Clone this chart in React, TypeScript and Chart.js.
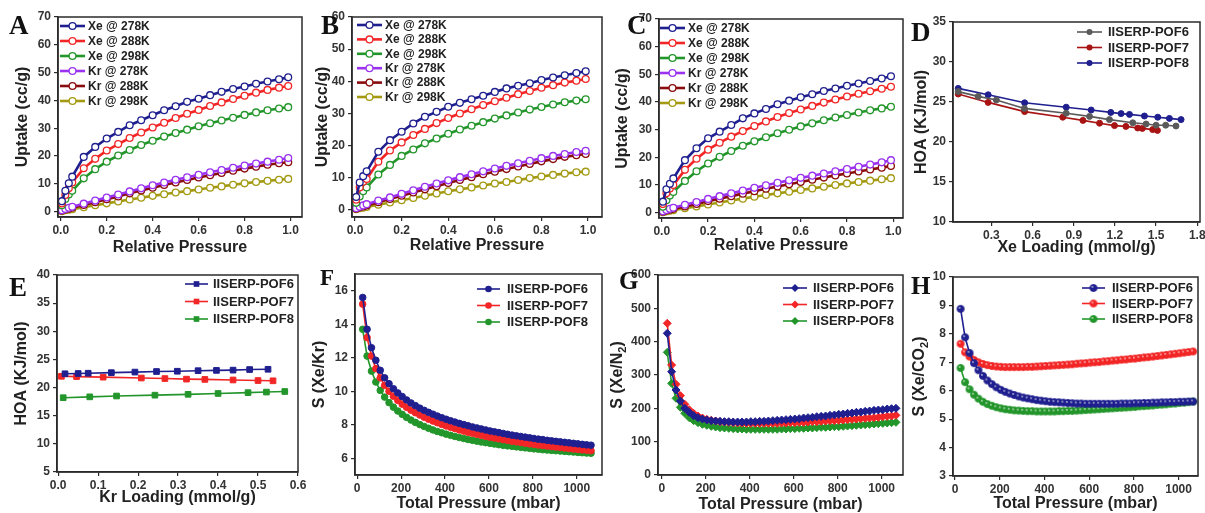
import React, { useEffect, useRef } from 'react';
import { Chart, registerables } from 'chart.js';

Chart.register(...registerables);

const W = 1205;
const H = 513;
const SANS = '"Liberation Sans", Arial, Helvetica, sans-serif';
const SERIF = '"Liberation Serif", "Times New Roman", serif';
const AXIS = '#2b2b2b';

const NAVY = '#1f1f8f';
const RED = '#f22626';
const GREEN = '#23962b';
const PURPLE = '#9a32f0';
const MAROON = '#8a0c0c';
const OLIVE = '#a39a12';
const GRAY = '#5a5a5a';
const DARKRED = '#a81414';

// ---------- isotherms (A, B, C) ----------
const ISO_P = [0.005, 0.02, 0.035, 0.05, 0.1, 0.15, 0.2, 0.25, 0.3, 0.35, 0.4, 0.45, 0.5, 0.55, 0.6, 0.65, 0.7, 0.75, 0.8, 0.85, 0.9, 0.95, 0.99];
const ISO_LABELS = ['Xe @ 278K', 'Xe @ 288K', 'Xe @ 298K', 'Kr @ 278K', 'Kr @ 288K', 'Kr @ 298K'];

const A_XE278 = [3.8, 7.5, 10.2, 12.6, 19.7, 23.3, 26.3, 28.7, 31.1, 32.9, 34.7, 36.5, 37.9, 39.5, 40.6, 41.9, 43.1, 44.1, 45.0, 46.0, 46.8, 47.6, 48.3];
const A_XE288 = [3.0, 6.0, 8.4, 10.5, 15.6, 19.0, 22.0, 24.3, 26.5, 28.5, 30.3, 32.0, 33.7, 35.2, 36.6, 38.0, 39.3, 40.5, 41.7, 42.8, 43.8, 44.6, 45.2];
const A_XE298 = [2.3, 4.6, 6.2, 7.5, 12.0, 15.3, 18.0, 20.2, 22.2, 24.0, 25.5, 27.0, 28.3, 29.5, 30.7, 31.8, 32.8, 33.8, 34.8, 35.7, 36.5, 37.1, 37.6];
const A_KR278 = [0.5, 1.0, 1.4, 1.8, 2.9, 4.0, 5.1, 6.2, 7.3, 8.4, 9.5, 10.5, 11.5, 12.4, 13.3, 14.2, 15.0, 15.8, 16.6, 17.3, 18.0, 18.7, 19.3];
const A_KR288 = [0.4, 0.8, 1.1, 1.4, 2.4, 3.4, 4.5, 5.5, 6.6, 7.6, 8.6, 9.6, 10.5, 11.4, 12.3, 13.1, 13.9, 14.7, 15.5, 16.2, 16.9, 17.4, 17.8];
const A_KR298 = [0.2, 0.5, 0.7, 0.9, 1.6, 2.3, 3.0, 3.7, 4.4, 5.0, 5.7, 6.3, 6.9, 7.4, 8.0, 8.6, 9.1, 9.7, 10.2, 10.7, 11.1, 11.5, 11.8];

const B_XE278 = [4.0, 8.5, 10.5, 12.0, 18.1, 21.7, 24.3, 26.9, 29.0, 30.5, 32.1, 33.3, 34.4, 35.5, 36.7, 37.8, 38.6, 39.4, 40.4, 41.2, 41.9, 42.6, 43.1];
const B_XE288 = [3.2, 7.0, 8.8, 9.6, 15.0, 18.5, 21.0, 23.3, 25.2, 27.0, 28.6, 30.0, 31.3, 32.6, 33.8, 34.9, 36.0, 37.0, 38.0, 38.8, 39.6, 40.2, 40.7];
const B_XE298 = [2.2, 4.2, 5.8, 7.0, 11.0, 14.0, 16.8, 18.8, 20.7, 22.2, 23.7, 25.0, 26.2, 27.3, 28.4, 29.4, 30.3, 31.2, 32.0, 32.8, 33.5, 34.0, 34.4];
const B_KR278 = [0.5, 1.0, 1.4, 1.8, 2.9, 3.9, 5.0, 6.1, 7.2, 8.2, 9.2, 10.2, 11.1, 12.0, 12.9, 13.7, 14.5, 15.3, 16.1, 16.8, 17.4, 18.0, 18.4];
const B_KR288 = [0.4, 0.8, 1.1, 1.4, 2.4, 3.4, 4.4, 5.4, 6.4, 7.4, 8.4, 9.3, 10.2, 11.1, 11.9, 12.7, 13.5, 14.3, 15.1, 15.8, 16.5, 17.0, 17.4];
const B_KR298 = [0.2, 0.5, 0.7, 0.9, 1.6, 2.3, 3.0, 3.7, 4.4, 5.1, 5.8, 6.4, 7.0, 7.6, 8.2, 8.7, 9.3, 9.9, 10.4, 10.9, 11.3, 11.7, 11.9];

const C_XE278 = [4.0, 8.5, 10.5, 12.4, 19.0, 23.3, 26.9, 29.3, 31.7, 34.1, 35.9, 37.5, 39.2, 40.5, 41.7, 42.8, 44.0, 44.9, 45.9, 46.7, 47.6, 48.5, 49.3];
const C_XE288 = [3.2, 7.0, 8.8, 10.0, 15.5, 19.5, 22.8, 25.3, 27.5, 29.5, 31.3, 33.0, 34.6, 36.0, 37.3, 38.6, 39.8, 40.9, 42.0, 43.0, 43.9, 44.8, 45.5];
const C_XE298 = [2.2, 4.5, 6.2, 7.5, 11.5, 15.0, 17.8, 20.2, 22.3, 24.2, 25.8, 27.3, 28.7, 30.0, 31.2, 32.3, 33.4, 34.4, 35.3, 36.2, 37.0, 37.7, 38.3];
const C_KR278 = [0.5, 1.0, 1.4, 1.8, 2.9, 3.9, 5.0, 6.0, 7.0, 8.0, 9.0, 9.9, 10.8, 11.7, 12.6, 13.4, 14.2, 15.0, 15.8, 16.6, 17.4, 18.2, 19.0];
const C_KR288 = [0.4, 0.8, 1.1, 1.4, 2.3, 3.2, 4.2, 5.1, 6.0, 6.9, 7.8, 8.7, 9.5, 10.3, 11.1, 11.9, 12.7, 13.5, 14.2, 14.9, 15.6, 16.3, 16.9];
const C_KR298 = [0.2, 0.5, 0.7, 0.9, 1.6, 2.3, 3.0, 3.7, 4.4, 5.1, 5.8, 6.4, 7.0, 7.6, 8.2, 8.8, 9.4, 10.0, 10.6, 11.1, 11.6, 12.1, 12.5];

// ---------- HOA (D, E) ----------
const POF_LABELS = ['IISERP-POF6', 'IISERP-POF7', 'IISERP-POF8'];

const D_POF6_X = [0.058, 0.203, 0.336, 0.54, 0.845, 1.015, 1.16, 1.33, 1.427, 1.5, 1.57, 1.645];
const D_POF6_Y = [26.3, 25.7, 25.25, 24.2, 23.6, 23.2, 22.8, 22.4, 22.25, 22.1, 22.1, 22.0];
const D_POF7_X = [0.058, 0.276, 0.542, 0.82, 0.967, 1.088, 1.197, 1.28, 1.366, 1.4, 1.475, 1.51];
const D_POF7_Y = [26.0, 24.95, 23.8, 23.1, 22.7, 22.35, 22.05, 21.95, 21.75, 21.7, 21.55, 21.45];
const D_POF8_X = [0.058, 0.276, 0.542, 0.845, 1.027, 1.17, 1.245, 1.306, 1.415, 1.512, 1.597, 1.682];
const D_POF8_Y = [26.7, 25.9, 24.9, 24.35, 24.0, 23.7, 23.55, 23.45, 23.25, 23.1, 22.95, 22.8];

const E_POF6_X = [0.017, 0.05, 0.075, 0.133, 0.192, 0.246, 0.298, 0.35, 0.396, 0.4375, 0.479, 0.525];
const E_POF6_Y = [22.45, 22.5, 22.55, 22.65, 22.75, 22.85, 22.9, 23.0, 23.05, 23.1, 23.2, 23.25];
const E_POF7_X = [0.008, 0.046, 0.1125, 0.208, 0.267, 0.321, 0.367, 0.4375, 0.5, 0.5375];
const E_POF7_Y = [22.0, 21.95, 21.85, 21.7, 21.6, 21.5, 21.45, 21.35, 21.25, 21.2];
const E_POF8_X = [0.0125, 0.079, 0.146, 0.242, 0.325, 0.4, 0.475, 0.521, 0.567];
const E_POF8_Y = [18.2, 18.35, 18.5, 18.65, 18.8, 18.95, 19.1, 19.2, 19.3];

// ---------- selectivity (F, G, H) ----------
const PRESSURE = [25, 45, 65, 85, 105, 125, 145, 165, 185, 205, 225, 245, 265, 285, 305, 325, 345, 365, 385, 405, 425, 445, 465, 485, 505, 525, 545, 565, 585, 605, 625, 645, 665, 685, 705, 725, 745, 765, 785, 805, 825, 845, 865, 885, 905, 925, 945, 965, 985, 1005, 1025, 1045, 1065];

const F_POF6 = [15.6, 13.7, 12.6, 11.85, 11.25, 10.8, 10.45, 10.15, 9.9, 9.68, 9.48, 9.3, 9.14, 8.99, 8.86, 8.74, 8.63, 8.52, 8.42, 8.33, 8.24, 8.16, 8.08, 8.01, 7.94, 7.87, 7.81, 7.75, 7.69, 7.63, 7.58, 7.53, 7.48, 7.43, 7.38, 7.34, 7.3, 7.26, 7.22, 7.18, 7.14, 7.11, 7.07, 7.04, 7.01, 6.98, 6.95, 6.92, 6.89, 6.86, 6.83, 6.8, 6.78];
const F_POF7 = [15.2, 13.2, 12.1, 11.35, 10.8, 10.35, 10.0, 9.7, 9.45, 9.23, 9.04, 8.87, 8.72, 8.58, 8.45, 8.33, 8.22, 8.12, 8.02, 7.93, 7.85, 7.77, 7.69, 7.62, 7.55, 7.49, 7.43, 7.37, 7.31, 7.26, 7.21, 7.16, 7.11, 7.07, 7.02, 6.98, 6.94, 6.9, 6.86, 6.83, 6.79, 6.76, 6.73, 6.7, 6.67, 6.64, 6.61, 6.58, 6.55, 6.53, 6.5, 6.48, 6.45];
const F_POF8 = [13.7, 12.1, 11.2, 10.55, 10.05, 9.65, 9.32, 9.05, 8.82, 8.62, 8.44, 8.28, 8.14, 8.01, 7.9, 7.79, 7.69, 7.6, 7.52, 7.44, 7.37, 7.3, 7.24, 7.18, 7.12, 7.07, 7.02, 6.97, 6.93, 6.89, 6.85, 6.81, 6.77, 6.74, 6.71, 6.68, 6.65, 6.62, 6.59, 6.56, 6.54, 6.51, 6.49, 6.47, 6.45, 6.43, 6.41, 6.39, 6.37, 6.35, 6.33, 6.31, 6.3];

const G_POF6 = [425, 310, 255, 222, 200, 188, 178, 172, 168, 165, 163, 162, 161, 160, 160, 159, 159, 159, 159, 160, 160, 161, 161, 162, 163, 164, 165, 166, 167, 168, 169, 171, 172, 173, 175, 176, 177, 179, 180, 182, 183, 185, 186, 188, 189, 191, 192, 194, 195, 196, 198, 199, 200];
const G_POF7 = [455, 330, 272, 238, 212, 196, 185, 177, 171, 167, 164, 162, 160, 159, 158, 157, 156, 156, 155, 155, 155, 155, 155, 155, 155, 155, 156, 156, 157, 157, 158, 158, 159, 160, 160, 161, 162, 163, 163, 164, 165, 166, 167, 168, 169, 170, 171, 172, 173, 175, 176, 177, 179];
const G_POF8 = [368, 275, 230, 203, 185, 172, 163, 157, 152, 149, 146, 144, 142, 141, 140, 139, 138, 138, 137, 137, 137, 137, 137, 137, 137, 137, 138, 138, 139, 139, 140, 140, 141, 141, 142, 143, 143, 144, 145, 145, 146, 147, 148, 149, 150, 151, 152, 153, 154, 155, 156, 157, 158];

const H_POF6 = [8.88, 7.88, 7.33, 6.97, 6.72, 6.52, 6.36, 6.23, 6.12, 6.03, 5.96, 5.9, 5.85, 5.8, 5.76, 5.73, 5.7, 5.67, 5.65, 5.63, 5.61, 5.6, 5.59, 5.58, 5.57, 5.56, 5.55, 5.55, 5.54, 5.54, 5.54, 5.54, 5.54, 5.54, 5.54, 5.54, 5.55, 5.55, 5.55, 5.56, 5.56, 5.57, 5.57, 5.58, 5.58, 5.59, 5.59, 5.6, 5.6, 5.61, 5.61, 5.62, 5.62];
const H_POF7 = [7.65, 7.35, 7.2, 7.08, 7.0, 6.94, 6.9, 6.87, 6.85, 6.84, 6.83, 6.83, 6.83, 6.83, 6.83, 6.84, 6.84, 6.85, 6.86, 6.87, 6.88, 6.89, 6.9, 6.91, 6.92, 6.93, 6.95, 6.96, 6.97, 6.99, 7.0, 7.01, 7.03, 7.04, 7.06, 7.07, 7.09, 7.1, 7.12, 7.13, 7.15, 7.17, 7.18, 7.2, 7.22, 7.24, 7.26, 7.28, 7.3, 7.32, 7.34, 7.36, 7.38];
const H_POF8 = [6.8, 6.3, 6.05, 5.86, 5.72, 5.61, 5.53, 5.47, 5.42, 5.38, 5.35, 5.33, 5.31, 5.3, 5.29, 5.28, 5.28, 5.27, 5.27, 5.27, 5.27, 5.27, 5.28, 5.28, 5.29, 5.29, 5.3, 5.31, 5.32, 5.33, 5.34, 5.35, 5.36, 5.37, 5.38, 5.39, 5.4, 5.41, 5.42, 5.43, 5.45, 5.46, 5.47, 5.48, 5.5, 5.51, 5.52, 5.54, 5.55, 5.57, 5.58, 5.6, 5.62];

// ---------- ticks ----------
const ISO_X_TICKS = [0, 0.2, 0.4, 0.6, 0.8, 1.0];
const A_Y_TICKS = [0, 10, 20, 30, 40, 50, 60, 70];
const B_Y_TICKS = [0, 10, 20, 30, 40, 50, 60];
const C_Y_TICKS = [0, 10, 20, 30, 40, 50, 60, 70];
const D_X_TICKS = [0.3, 0.6, 0.9, 1.2, 1.5, 1.8];
const D_Y_TICKS = [10, 15, 20, 25, 30, 35];
const E_X_TICKS = [0, 0.1, 0.2, 0.3, 0.4, 0.5, 0.6];
const E_Y_TICKS = [5, 10, 15, 20, 25, 30, 35, 40];
const P_X_TICKS = [0, 200, 400, 600, 800, 1000];
const F_Y_TICKS = [6, 8, 10, 12, 14, 16];
const G_Y_TICKS = [0, 100, 200, 300, 400, 500, 600];
const H_Y_TICKS = [3, 4, 5, 6, 7, 8, 9, 10];

type Kind = 'open' | 'dot' | 'square' | 'diamond' | 'sphere';
type Seg = { t: string; sub?: boolean };
type Series = { label: string; x: number[]; y: number[]; color: string };
type Panel = {
  letter: string; letterX: number; letterY: number; letterSize: number;
  box: [number, number, number, number];
  xMin: number; xMax: number; yMin: number; yMax: number;
  xTicks: number[]; yTicks: number[]; xDec: number; yDec: number;
  xTitle: string; xTitleY: number; yTitle: Seg[]; yTitleX: number;
  kind: Kind; radius: number; lineWidth: number;
  legend: { x: number; y: number; dy: number; len: number; gap: number; size: number };
  series: Series[];
};

const isoSeries = (a: number[][]): Series[] => {
  const colors = [NAVY, RED, GREEN, PURPLE, MAROON, OLIVE];
  return a.map((ys, i) => ({ label: ISO_LABELS[i], x: ISO_P, y: ys, color: colors[i] }));
};

const PANELS: Panel[] = [
  {
    letter: 'A', letterX: 9, letterY: 34, letterSize: 27,
    box: [58, 17, 302, 217], xMin: -0.012, xMax: 1.05, yMin: -1.9, yMax: 70,
    xTicks: ISO_X_TICKS, yTicks: A_Y_TICKS, xDec: 1, yDec: 0,
    xTitle: 'Relative Pressure', xTitleY: 248, yTitle: [{ t: 'Uptake (cc/g)' }], yTitleX: 23,
    kind: 'open', radius: 3.4, lineWidth: 2.6,
    legend: { x: 60, y: 26, dy: 15, len: 25, gap: 3, size: 12 },
    series: isoSeries([A_XE278, A_XE288, A_XE298, A_KR278, A_KR288, A_KR298]),
  },
  {
    letter: 'B', letterX: 321, letterY: 34, letterSize: 27,
    box: [352, 17, 602, 217], xMin: -0.013, xMax: 1.06, yMin: -2.2, yMax: 60,
    xTicks: ISO_X_TICKS, yTicks: B_Y_TICKS, xDec: 1, yDec: 0,
    xTitle: 'Relative Pressure', xTitleY: 246, yTitle: [{ t: 'Uptake (cc/g)' }], yTitleX: 323,
    kind: 'open', radius: 3.4, lineWidth: 2.6,
    legend: { x: 357, y: 25, dy: 14.4, len: 25, gap: 3, size: 12 },
    series: isoSeries([B_XE278, B_XE288, B_XE298, B_KR278, B_KR288, B_KR298]),
  },
  {
    letter: 'C', letterX: 627, letterY: 34, letterSize: 27,
    box: [659, 19, 903, 218], xMin: -0.012, xMax: 1.042, yMin: -1.9, yMax: 70,
    xTicks: ISO_X_TICKS, yTicks: C_Y_TICKS, xDec: 1, yDec: 0,
    xTitle: 'Relative Pressure', xTitleY: 246, yTitle: [{ t: 'Uptake (cc/g)' }], yTitleX: 623,
    kind: 'open', radius: 3.4, lineWidth: 2.6,
    legend: { x: 660, y: 28, dy: 15, len: 25, gap: 3, size: 12 },
    series: isoSeries([C_XE278, C_XE288, C_XE298, C_KR278, C_KR288, C_KR298]),
  },
  {
    letter: 'D', letterX: 911, letterY: 41, letterSize: 27,
    box: [953, 22, 1202, 222], xMin: 0.02, xMax: 1.82, yMin: 10, yMax: 35,
    xTicks: D_X_TICKS, yTicks: D_Y_TICKS, xDec: 1, yDec: 0,
    xTitle: 'Xe Loading (mmol/g)', xTitleY: 248, yTitle: [{ t: 'HOA (KJ/mol)' }], yTitleX: 922,
    kind: 'dot', radius: 3, lineWidth: 1.6,
    legend: { x: 1077, y: 32, dy: 15.5, len: 25, gap: 6, size: 13 },
    series: [
      { label: POF_LABELS[0], x: D_POF6_X, y: D_POF6_Y, color: GRAY },
      { label: POF_LABELS[1], x: D_POF7_X, y: D_POF7_Y, color: DARKRED },
      { label: POF_LABELS[2], x: D_POF8_X, y: D_POF8_Y, color: NAVY },
    ],
  },
  {
    letter: 'E', letterX: 9, letterY: 296, letterSize: 27,
    box: [57, 275, 298, 472], xMin: -0.003, xMax: 0.6, yMin: 5, yMax: 40,
    xTicks: E_X_TICKS, yTicks: E_Y_TICKS, xDec: 1, yDec: 0,
    xTitle: 'Kr Loading (mmol/g)', xTitleY: 498, yTitle: [{ t: 'HOA (KJ/mol)' }], yTitleX: 22,
    kind: 'square', radius: 4, lineWidth: 1.6,
    legend: { x: 185, y: 284, dy: 17.5, len: 23, gap: 5, size: 13 },
    series: [
      { label: POF_LABELS[0], x: E_POF6_X, y: E_POF6_Y, color: NAVY },
      { label: POF_LABELS[1], x: E_POF7_X, y: E_POF7_Y, color: RED },
      { label: POF_LABELS[2], x: E_POF8_X, y: E_POF8_Y, color: GREEN },
    ],
  },
  {
    letter: 'F', letterX: 320, letterY: 285, letterSize: 23,
    box: [355, 274, 602, 475], xMin: -10, xMax: 1115, yMin: 5, yMax: 17,
    xTicks: P_X_TICKS, yTicks: F_Y_TICKS, xDec: 0, yDec: 0,
    xTitle: 'Total Pressure (mbar)', xTitleY: 504, yTitle: [{ t: 'S (Xe/Kr)' }], yTitleX: 320,
    kind: 'dot', radius: 3.3, lineWidth: 1.6,
    legend: { x: 477, y: 289, dy: 16.5, len: 23, gap: 7, size: 13 },
    series: [
      { label: POF_LABELS[0], x: PRESSURE, y: F_POF6, color: NAVY },
      { label: POF_LABELS[1], x: PRESSURE, y: F_POF7, color: RED },
      { label: POF_LABELS[2], x: PRESSURE, y: F_POF8, color: GREEN },
    ],
  },
  {
    letter: 'G', letterX: 619, letterY: 289, letterSize: 25,
    box: [658, 275, 903, 475], xMin: -17, xMax: 1097, yMin: 0, yMax: 600,
    xTicks: P_X_TICKS, yTicks: G_Y_TICKS, xDec: 0, yDec: 0,
    xTitle: 'Total Pressure (mbar)', xTitleY: 505, yTitle: [{ t: 'S (Xe/N' }, { t: '2', sub: true }, { t: ')' }], yTitleX: 618,
    kind: 'diamond', radius: 4, lineWidth: 1.6,
    legend: { x: 783, y: 288, dy: 16.5, len: 24, gap: 6, size: 13 },
    series: [
      { label: POF_LABELS[0], x: PRESSURE, y: G_POF6, color: NAVY },
      { label: POF_LABELS[1], x: PRESSURE, y: G_POF7, color: RED },
      { label: POF_LABELS[2], x: PRESSURE, y: G_POF8, color: GREEN },
    ],
  },
  {
    letter: 'H', letterX: 911, letterY: 294, letterSize: 25,
    box: [953, 277, 1198, 476], xMin: -9, xMax: 1087, yMin: 3, yMax: 10,
    xTicks: P_X_TICKS, yTicks: H_Y_TICKS, xDec: 0, yDec: 0,
    xTitle: 'Total Pressure (mbar)', xTitleY: 504, yTitle: [{ t: 'S (Xe/CO' }, { t: '2', sub: true }, { t: ')' }], yTitleX: 920,
    kind: 'sphere', radius: 3.6, lineWidth: 1.6,
    legend: { x: 1082, y: 288, dy: 15.5, len: 23, gap: 7, size: 13 },
    series: [
      { label: POF_LABELS[0], x: PRESSURE, y: H_POF6, color: NAVY },
      { label: POF_LABELS[1], x: PRESSURE, y: H_POF7, color: RED },
      { label: POF_LABELS[2], x: PRESSURE, y: H_POF8, color: GREEN },
    ],
  },
];

function sphereImage(color: string, r: number): HTMLCanvasElement {
  const s = Math.ceil(r * 2 + 2);
  const c = document.createElement('canvas');
  c.width = s;
  c.height = s;
  const g = c.getContext('2d')!;
  const cx = s / 2;
  const cy = s / 2;
  const grad = g.createRadialGradient(cx - r * 0.35, cy - r * 0.35, 0.1, cx, cy, r);
  grad.addColorStop(0, '#ffffff');
  grad.addColorStop(0.3, color);
  grad.addColorStop(1, color);
  g.fillStyle = grad;
  g.beginPath();
  g.arc(cx, cy, r, 0, Math.PI * 2);
  g.fill();
  g.lineWidth = 0.8;
  g.strokeStyle = color;
  g.stroke();
  return c;
}

function pointOpts(kind: Kind, color: string, r: number): any {
  switch (kind) {
    case 'open':
      return { pointStyle: 'circle', pointRadius: r, pointBackgroundColor: '#ffffff', pointBorderColor: color, pointBorderWidth: 1.3 };
    case 'dot':
      return { pointStyle: 'circle', pointRadius: r, pointBackgroundColor: color, pointBorderColor: color, pointBorderWidth: 1 };
    case 'square':
      return { pointStyle: 'rect', pointRadius: r, pointBackgroundColor: color, pointBorderColor: color, pointBorderWidth: 1 };
    case 'diamond':
      return { pointStyle: 'rectRot', pointRadius: r, pointBackgroundColor: color, pointBorderColor: color, pointBorderWidth: 1 };
    case 'sphere':
    default:
      return { pointStyle: sphereImage(color, r), pointRadius: r, pointBackgroundColor: color, pointBorderColor: color };
  }
}

function drawMarker(ctx: CanvasRenderingContext2D, kind: Kind, x: number, y: number, r: number, color: string, img?: HTMLCanvasElement) {
  ctx.save();
  ctx.fillStyle = color;
  ctx.strokeStyle = color;
  ctx.lineWidth = 1;
  ctx.beginPath();
  if (kind === 'open') {
    ctx.arc(x, y, r, 0, Math.PI * 2);
    ctx.fillStyle = '#ffffff';
    ctx.fill();
    ctx.lineWidth = 1.3;
    ctx.stroke();
  } else if (kind === 'dot') {
    ctx.arc(x, y, r, 0, Math.PI * 2);
    ctx.fill();
  } else if (kind === 'square') {
    const s = r * Math.SQRT1_2;
    ctx.rect(x - s, y - s, 2 * s, 2 * s);
    ctx.fill();
  } else if (kind === 'diamond') {
    ctx.moveTo(x, y - r);
    ctx.lineTo(x + r, y);
    ctx.lineTo(x, y + r);
    ctx.lineTo(x - r, y);
    ctx.closePath();
    ctx.fill();
  } else if (img) {
    ctx.drawImage(img, x - img.width / 2, y - img.height / 2);
  }
  ctx.restore();
}

function drawRich(ctx: CanvasRenderingContext2D, segs: Seg[], cx: number, cy: number) {
  ctx.save();
  ctx.translate(cx, cy);
  ctx.rotate(-Math.PI / 2);
  const big = `bold 16px ${SANS}`;
  const small = `bold 11px ${SANS}`;
  let total = 0;
  for (const s of segs) {
    ctx.font = s.sub ? small : big;
    total += ctx.measureText(s.t).width;
  }
  let x = -total / 2;
  ctx.textAlign = 'left';
  ctx.textBaseline = 'middle';
  ctx.fillStyle = '#222';
  for (const s of segs) {
    ctx.font = s.sub ? small : big;
    ctx.fillText(s.t, x, s.sub ? 5 : 0);
    x += ctx.measureText(s.t).width;
  }
  ctx.restore();
}

function makeChart(canvas: HTMLCanvasElement, p: Panel): Chart {
  const [L, T, R, B] = p.box;
  const YW = 40;
  const XH = 30;
  const images: (HTMLCanvasElement | undefined)[] = [];
  const datasets = p.series.map((s) => {
    const po = pointOpts(p.kind, s.color, p.radius);
    images.push(p.kind === 'sphere' ? (po.pointStyle as HTMLCanvasElement) : undefined);
    return {
      label: s.label,
      data: s.x.map((x, i) => ({ x, y: s.y[i] })),
      borderColor: s.color,
      backgroundColor: s.color,
      borderWidth: p.lineWidth,
      tension: 0,
      ...po,
    };
  });

  const tickFont = { family: SANS, size: 12, weight: 'bold' as const };

  const deco = {
    id: 'deco' + p.letter,
    afterDraw(chart: any) {
      const ctx: CanvasRenderingContext2D = chart.ctx;
      const a = chart.chartArea;
      ctx.save();
      ctx.strokeStyle = AXIS;
      ctx.lineWidth = 1.5;
      ctx.strokeRect(a.left, a.top, a.right - a.left, a.bottom - a.top);

      ctx.fillStyle = '#111';
      ctx.font = `bold ${p.letterSize}px ${SERIF}`;
      ctx.textAlign = 'left';
      ctx.textBaseline = 'alphabetic';
      ctx.fillText(p.letter, p.letterX, p.letterY);

      ctx.fillStyle = '#222';
      ctx.font = `bold 16px ${SANS}`;
      ctx.textAlign = 'center';
      ctx.textBaseline = 'middle';
      ctx.fillText(p.xTitle, (a.left + a.right) / 2, p.xTitleY);

      drawRich(ctx, p.yTitle, p.yTitleX, (a.top + a.bottom) / 2);

      const lg = p.legend;
      p.series.forEach((s, i) => {
        const y = lg.y + i * lg.dy;
        ctx.strokeStyle = s.color;
        ctx.lineWidth = p.lineWidth;
        ctx.beginPath();
        ctx.moveTo(lg.x, y);
        ctx.lineTo(lg.x + lg.len, y);
        ctx.stroke();
        drawMarker(ctx, p.kind, lg.x + lg.len / 2, y, p.radius, s.color, images[i]);
        ctx.fillStyle = '#222';
        ctx.font = `bold ${lg.size}px ${SANS}`;
        ctx.textAlign = 'left';
        ctx.textBaseline = 'middle';
        ctx.fillText(s.label, lg.x + lg.len + lg.gap, y + 0.5);
      });
      ctx.restore();
    },
  };

  const zeroPad = (s: any) => {
    s.paddingLeft = 0;
    s.paddingRight = 0;
    s.paddingTop = 0;
    s.paddingBottom = 0;
  };

  return new Chart(canvas, {
    type: 'line',
    data: { datasets: datasets as any },
    options: {
      responsive: false,
      animation: false,
      devicePixelRatio: 1,
      events: [],
      layout: { padding: { left: L - YW, top: T, right: W - R, bottom: H - B - XH } },
      plugins: { legend: { display: false }, tooltip: { enabled: false } },
      scales: {
        x: {
          type: 'linear',
          min: p.xMin,
          max: p.xMax,
          afterBuildTicks: (s: any) => { s.ticks = p.xTicks.map((v) => ({ value: v })); },
          afterFit: (s: any) => { s.height = XH; zeroPad(s); },
          ticks: {
            font: tickFont, color: '#333', padding: 2, maxRotation: 0, autoSkip: false,
            callback: (v: any) => Number(v).toFixed(p.xDec),
          },
          grid: { display: true, drawOnChartArea: false, drawTicks: true, tickLength: 4, color: AXIS, lineWidth: 1.2 },
          border: { display: true, color: AXIS, width: 1.5 },
        },
        y: {
          type: 'linear',
          min: p.yMin,
          max: p.yMax,
          afterBuildTicks: (s: any) => { s.ticks = p.yTicks.map((v) => ({ value: v })); },
          afterFit: (s: any) => { s.width = YW; zeroPad(s); },
          ticks: {
            font: tickFont, color: '#333', padding: 3, autoSkip: false,
            callback: (v: any) => Number(v).toFixed(p.yDec),
          },
          grid: { display: true, drawOnChartArea: false, drawTicks: true, tickLength: 4, color: AXIS, lineWidth: 1.2 },
          border: { display: true, color: AXIS, width: 1.5 },
        },
      },
    } as any,
    plugins: [deco],
  });
}

export default function App() {
  const refs = useRef<(HTMLCanvasElement | null)[]>([]);
  useEffect(() => {
    const charts = PANELS.map((p, i) => makeChart(refs.current[i]!, p));
    return () => charts.forEach((c) => c.destroy());
  }, []);
  return (
    <div style={{ position: 'absolute', left: 0, top: 0, width: W, height: H, background: '#ffffff', overflow: 'hidden' }}>
      {PANELS.map((p, i) => (
        <canvas
          key={p.letter}
          ref={(el) => { refs.current[i] = el; }}
          width={W}
          height={H}
          style={{ position: 'absolute', left: 0, top: 0, width: W, height: H }}
        />
      ))}
    </div>
  );
}
